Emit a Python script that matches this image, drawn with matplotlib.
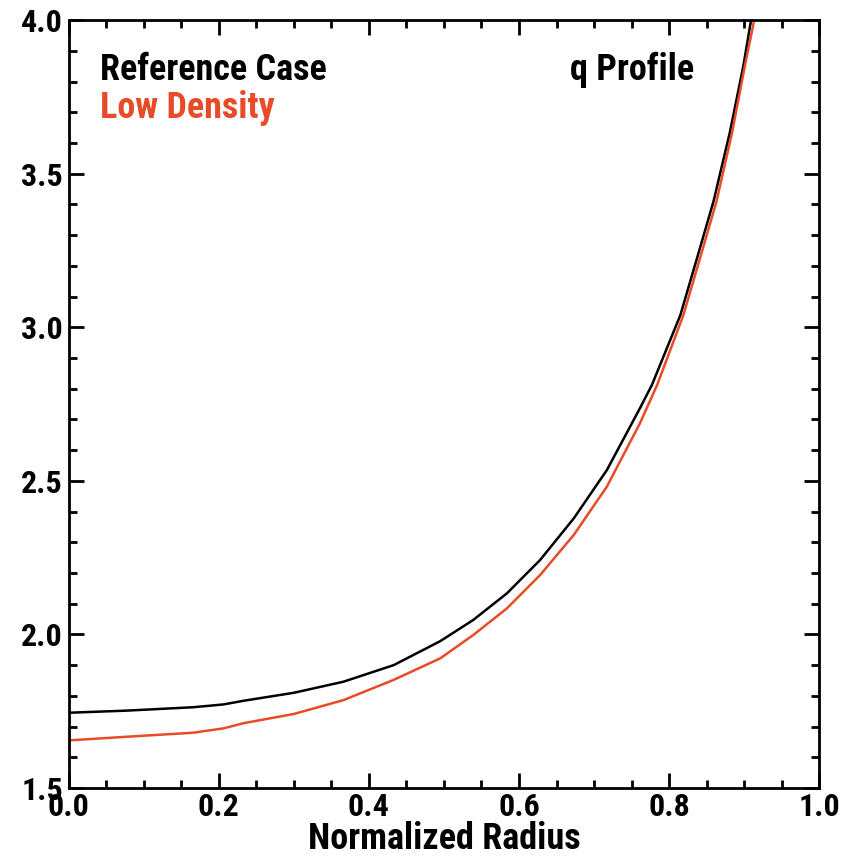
"""q 剖面：参考工况与低密度工况对比。"""

import matplotlib
matplotlib.use("Agg")
import matplotlib.pyplot as plt
from matplotlib import font_manager
from matplotlib.ticker import MultipleLocator

# 优先使用窄体粗体字（Helvetica Narrow 风格）
def pick_narrow_font():
    prefer = ["Liberation Sans Narrow", "Arial Narrow", "Roboto Condensed",
              "Open Sans Condensed", "Noto Sans", "DejaVu Sans"]
    cands = []
    for f in font_manager.fontManager.ttflist:
        name = f.name
        fn = f.fname.lower()
        narrow = ("narrow" in name.lower() or "condensed" in name.lower()
                  or "cond" in fn or "narrow" in fn
                  or str(f.stretch) in ("condensed", "semi-condensed", "extra-condensed"))
        if not narrow or "semi" in fn or "extra" in fn:
            continue
        w = f.weight if isinstance(f.weight, int) else (700 if "bold" in str(f.weight) else 400)
        if w < 600 or "italic" in fn or "oblique" in fn or f.style != "normal":
            continue
        rank = next((i for i, p in enumerate(prefer) if name.startswith(p)), len(prefer))
        cands.append((rank, f.fname))
    if cands:
        return sorted(cands)[0][1]
    return None


narrow_path = pick_narrow_font()
if narrow_path:
    FONT = font_manager.FontProperties(fname=narrow_path)
else:
    FONT = font_manager.FontProperties(family="DejaVu Sans", weight="bold")

# 参考工况 q
r_reference = [0.000, 0.078, 0.166, 0.206, 0.233, 0.300, 0.366, 0.433, 0.495,
               0.539, 0.584, 0.628, 0.673, 0.717, 0.761, 0.777, 0.815, 0.837,
               0.859, 0.881, 0.899, 0.908, 0.915]
q_reference = [1.745, 1.752, 1.763, 1.772, 1.784, 1.810, 1.846, 1.900, 1.978,
               2.047, 2.134, 2.242, 2.378, 2.535, 2.736, 2.812, 3.040, 3.224,
               3.409, 3.636, 3.853, 3.984, 4.080]
# 低密度工况 q
r_low_density = [0.000, 0.078, 0.166, 0.206, 0.233, 0.300, 0.366, 0.433, 0.495,
                 0.539, 0.584, 0.628, 0.673, 0.717, 0.761, 0.784, 0.819, 0.841,
                 0.863, 0.884, 0.901, 0.912, 0.918]
q_low_density = [1.655, 1.667, 1.680, 1.694, 1.711, 1.741, 1.786, 1.852, 1.922,
                 1.998, 2.085, 2.193, 2.324, 2.481, 2.687, 2.812, 3.040, 3.224,
                 3.409, 3.636, 3.853, 3.984, 4.080]

RED = "#E84B28"

fig = plt.figure(figsize=(8.57, 8.57), dpi=100)
ax = fig.add_axes([0.080, 0.0805, 0.876, 0.896])

ax.plot(r_reference, q_reference, color="black", lw=1.8, solid_joinstyle="round")
ax.plot(r_low_density, q_low_density, color=RED, lw=1.8, solid_joinstyle="round")

ax.set_xlim(0.0, 1.0)
ax.set_ylim(1.5, 4.0)
ax.xaxis.set_major_locator(MultipleLocator(0.2))
ax.xaxis.set_minor_locator(MultipleLocator(0.05))
ax.yaxis.set_major_locator(MultipleLocator(0.5))
ax.yaxis.set_minor_locator(MultipleLocator(0.1))
ax.xaxis.set_major_formatter(lambda v, p: f"{v:.1f}")
ax.yaxis.set_major_formatter(lambda v, p: f"{v:.1f}")

ax.tick_params(which="both", direction="in", top=True, right=True, width=2.0)
ax.tick_params(which="major", length=10.5)
ax.tick_params(which="minor", length=5.5)
ax.tick_params(axis="x", pad=3)
ax.tick_params(axis="y", pad=4)
for lab in ax.get_xticklabels() + ax.get_yticklabels():
    lab.set_fontproperties(FONT)
    lab.set_fontsize(23)
for sp in ax.spines.values():
    sp.set_linewidth(2.0)

ax.set_xlabel("Normalized Radius", fontproperties=FONT, fontsize=26, labelpad=-1)

ax.text(0.042, 0.922, "Reference Case", transform=ax.transAxes,
        fontproperties=FONT, fontsize=26, color="black", va="baseline")
ax.text(0.042, 0.872, "Low Density", transform=ax.transAxes,
        fontproperties=FONT, fontsize=26, color=RED, va="baseline")
ax.text(0.668, 0.922, "q Profile", transform=ax.transAxes,
        fontproperties=FONT, fontsize=26, color="black", va="baseline")

fig.savefig("out.png", dpi=100)
